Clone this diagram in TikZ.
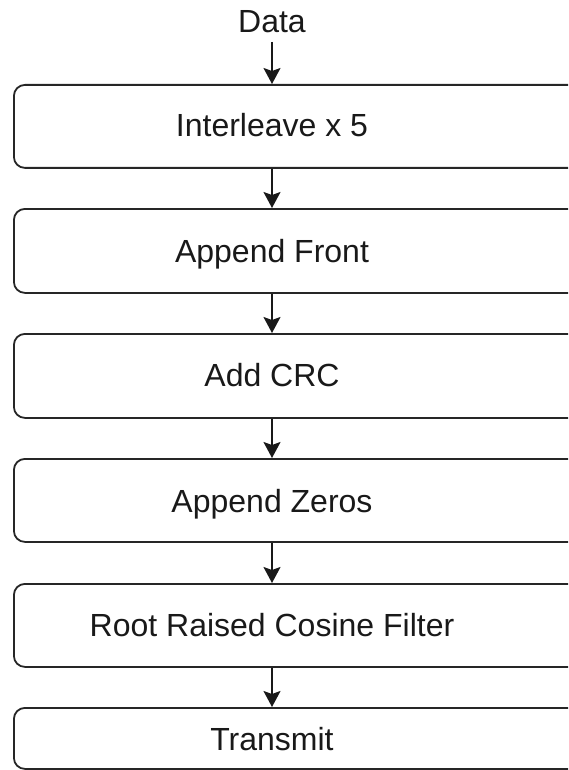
\documentclass[tikz,border=0pt]{standalone}
\usepackage{fontspec}
\setmainfont{Liberation Sans}
\usetikzlibrary{arrows.meta}
\begin{document}
\begin{tikzpicture}[x=1pt,y=-1pt,
  box/.style={draw=black!85, line width=1.8pt, rounded corners=11pt, inner sep=0pt, minimum width=590pt, anchor=north west},
  lab/.style={font=\fontsize{32}{38}\selectfont, inner sep=0pt, text=black!90, anchor=base},
  arr/.style={draw=black!90, line width=1.8pt, -{Stealth[length=16pt,width=17pt,inset=3pt]}}]
\useasboundingbox (0,0) rectangle (568,770);
\clip (0,0) rectangle (568,770);
\node[box, minimum height=83pt] (box1) at (13,84) {};
\node[box, minimum height=84pt] (box2) at (13,208) {};
\node[box, minimum height=84pt] (box3) at (13,333) {};
\node[box, minimum height=83pt] (box4) at (13,458) {};
\node[box, minimum height=83pt] (box5) at (13,583) {};
\node[box, minimum height=61pt] (box6) at (13,707) {};
\node[lab] (data) at (272,33) {Data};
\node[lab] (lab1) at (272,137) {Interleave x 5};
\node[lab] (lab2) at (272,262) {Append Front};
\node[lab] (lab3) at (272,386) {Add CRC};
\node[lab] (lab4) at (272,512) {Append Zeros};
\node[lab] (lab5) at (272,636) {Root Raised Cosine Filter};
\node[lab] (lab6) at (272,750) {Transmit};
\coordinate (d0) at (272,42);
\draw[arr] (d0) -- (box1.north -| lab1);
\draw[arr] (box1.south -| lab1) -- (box2.north -| lab2);
\draw[arr] (box2.south -| lab2) -- (box3.north -| lab3);
\draw[arr] (box3.south -| lab3) -- (box4.north -| lab4);
\draw[arr] (box4.south -| lab4) -- (box5.north -| lab5);
\draw[arr] (box5.south -| lab5) -- (box6.north -| lab6);
\end{tikzpicture}
\end{document}
